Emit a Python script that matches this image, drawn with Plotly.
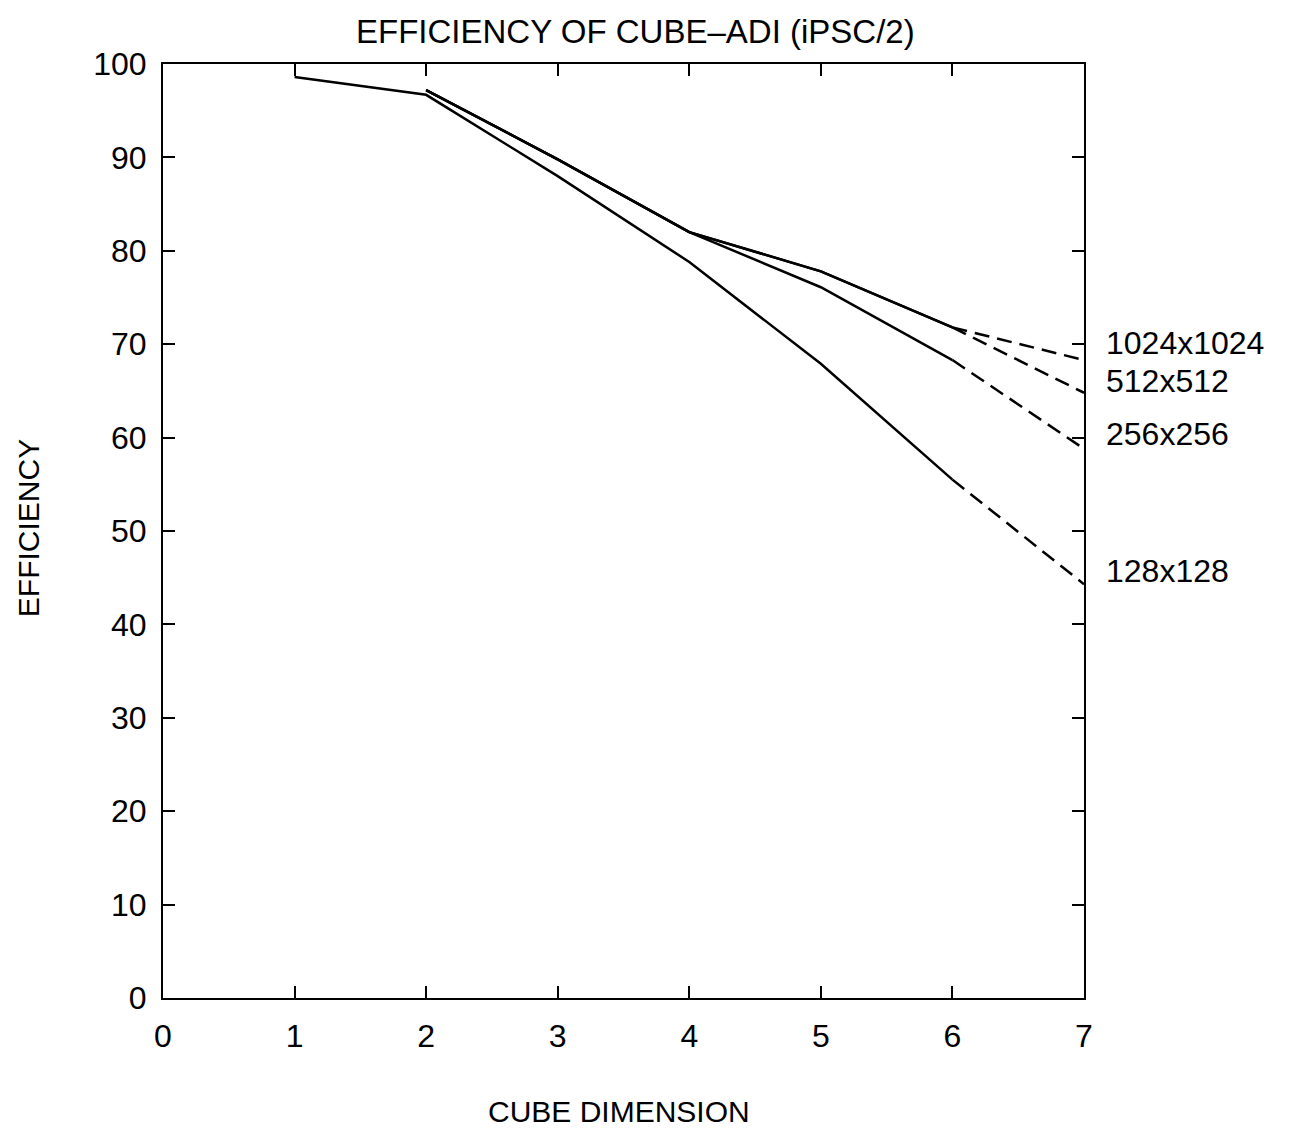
import plotly.graph_objects as go

# ---- data ----
dims_128 = [1, 2, 3, 4, 5, 6, 7]
eff_128 = [98.6, 96.7, 88.0, 78.8, 67.9, 55.5, 44.3]

dims_big = [2, 3, 4, 5, 6, 7]
eff_256 = [97.2, 89.8, 82.0, 76.1, 68.3, 58.8]
eff_512 = [97.2, 89.8, 82.0, 77.8, 71.8, 64.8]
eff_1024 = [97.2, 89.8, 82.0, 77.8, 71.8, 68.3]

series_names = ["128x128", "256x256", "512x512", "1024x1024"]
x_ticks = [0, 1, 2, 3, 4, 5, 6, 7]
y_ticks = [0, 10, 20, 30, 40, 50, 60, 70, 80, 90, 100]

FONT = "Liberation Sans, Arial, sans-serif"
LINE = dict(color="black", width=2.5)
DASH = dict(color="black", width=2.5, dash="15px,8px")

series = [
    (dims_128, eff_128),
    (dims_big, eff_256),
    (dims_big, eff_512),
    (dims_big, eff_1024),
]

fig = go.Figure()
for (xs, ys), name in zip(series, series_names):
    # measured part (solid) up to dimension 6, extrapolated part (dashed) 6 -> 7
    solid_x = [x for x in xs if x <= 6]
    solid_y = [y for x, y in zip(xs, ys) if x <= 6]
    dash_x = [x for x in xs if x >= 6]
    dash_y = [y for x, y in zip(xs, ys) if x >= 6]
    fig.add_trace(go.Scatter(x=solid_x, y=solid_y, mode="lines", line=LINE,
                             name=name, showlegend=False, hoverinfo="skip"))
    fig.add_trace(go.Scatter(x=dash_x, y=dash_y, mode="lines", line=DASH,
                             name=name, showlegend=False, hoverinfo="skip"))

# series labels at the right of the frame (positions in data units of y)
label_y = [45.7, 60.4, 66.1, 70.1]
annotations = []
for name, ly in zip(series_names, label_y):
    annotations.append(dict(text=name, xref="paper", yref="y", x=1.022, y=ly,
                            xanchor="left", yanchor="middle", showarrow=False,
                            font=dict(family=FONT, size=32, color="black")))

annotations += [
    dict(text="EFFICIENCY OF CUBE\u2013ADI (iPSC/2)", xref="paper", yref="paper",
         x=0.5125, y=1.035, xanchor="center", yanchor="middle", showarrow=False,
         font=dict(family=FONT, size=33, color="black")),
    dict(text="CUBE DIMENSION", xref="paper", yref="paper",
         x=0.4955, y=-0.122, xanchor="center", yanchor="middle", showarrow=False,
         font=dict(family=FONT, size=30, color="black")),
    dict(text="EFFICIENCY", xref="paper", yref="paper", textangle=-90,
         x=-0.1466, y=0.503, xanchor="center", yanchor="middle", showarrow=False,
         font=dict(family=FONT, size=30, color="black")),
]

axis_common = dict(
    showline=True, linecolor="black", linewidth=2,
    ticks="inside", ticklen=12, tickwidth=2, tickcolor="black",
    mirror="ticks", showgrid=False, zeroline=False,
    tickfont=dict(family=FONT, size=32, color="black"),
)

fig.update_layout(
    width=1294, height=1137,
    margin=dict(l=163, r=210, t=64, b=139),
    paper_bgcolor="white", plot_bgcolor="white",
    showlegend=False,
    annotations=annotations,
    xaxis=dict(range=[0, 7], tickvals=x_ticks, ticktext=[str(v) for v in x_ticks],
               ticklabelstandoff=9, **axis_common),
    yaxis=dict(range=[0, 100], tickvals=y_ticks, ticktext=[str(v) for v in y_ticks],
               ticklabelstandoff=8, **axis_common),
)

fig.write_html("out.html")
